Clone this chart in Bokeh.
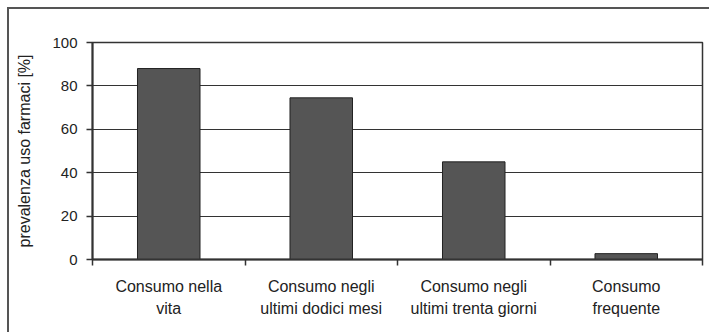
from bokeh.plotting import figure
from bokeh.models import FixedTicker, Range1d
from bokeh.embed import file_html
from bokeh.resources import INLINE

categories = ["Consumo nella\nvita", "Consumo negli\nultimi dodici mesi",
              "Consumo negli\nultimi trenta giorni", "Consumo\nfrequente"]
values = [88, 74.5, 45, 2.7]
y_ticks = [0, 20, 40, 60, 80, 100]
y_label = "prevalenza uso farmaci [%]"

FONT = "Liberation Sans"
n = len(categories)
centers = [i + 0.5 for i in range(n)]
bounds = [float(i) for i in range(n + 1)]

p = figure(width=702, height=325, output_backend="svg", toolbar_location=None,
           x_range=Range1d(0, n), y_range=Range1d(0, 100),
           min_border_left=83, min_border_top=33, min_border_right=9, min_border_bottom=75)
p.styles = {"border-left": "2px solid #555", "border-top": "2px solid #555",
            "margin-left": "7px", "margin-top": "7px"}
p.background_fill_color = "white"
p.border_fill_color = "white"
p.outline_line_color = "#333333"
p.outline_line_width = 1.5

p.vbar(x=centers, top=values, width=0.41, fill_color="#555555", line_color="#222222", line_width=1)

# x axis
xa = p.xaxis[0]
xa.ticker = FixedTicker(ticks=centers, minor_ticks=bounds)
xa.major_label_overrides = {c: lab for c, lab in zip(centers, categories)}
xa.major_tick_line_color = None
xa.major_tick_out = 0
xa.major_tick_in = 0
xa.minor_tick_out = 6
xa.minor_tick_in = 0
xa.minor_tick_line_color = "#333333"
xa.minor_tick_line_width = 1.5
xa.axis_line_width = 2
xa.axis_line_color = "#333333"
xa.major_label_standoff = 12
xa.major_label_text_font = FONT
xa.major_label_text_font_size = "16px"
xa.major_label_text_color = "#222222"
xa.major_label_text_line_height = 1.3

# y axis
ya = p.yaxis[0]
ya.ticker = FixedTicker(ticks=y_ticks)
ya.minor_tick_line_color = None
ya.major_tick_out = 6
ya.major_tick_in = 0
ya.major_tick_line_color = "#333333"
ya.major_tick_line_width = 1.5
ya.axis_line_width = 2
ya.axis_line_color = "#333333"
ya.major_label_standoff = 9
ya.major_label_text_font = FONT
ya.major_label_text_font_size = "15px"
ya.major_label_text_color = "#222222"
ya.axis_label = y_label
ya.axis_label_text_font = FONT
ya.axis_label_text_font_size = "16px"
ya.axis_label_text_font_style = "normal"
ya.axis_label_text_color = "#222222"
ya.axis_label_standoff = 16

p.xgrid.grid_line_color = None
p.ygrid.ticker = FixedTicker(ticks=y_ticks)
p.ygrid.grid_line_color = "#333333"
p.ygrid.grid_line_width = 1

open("out.html", "w").write(file_html(p, INLINE))
